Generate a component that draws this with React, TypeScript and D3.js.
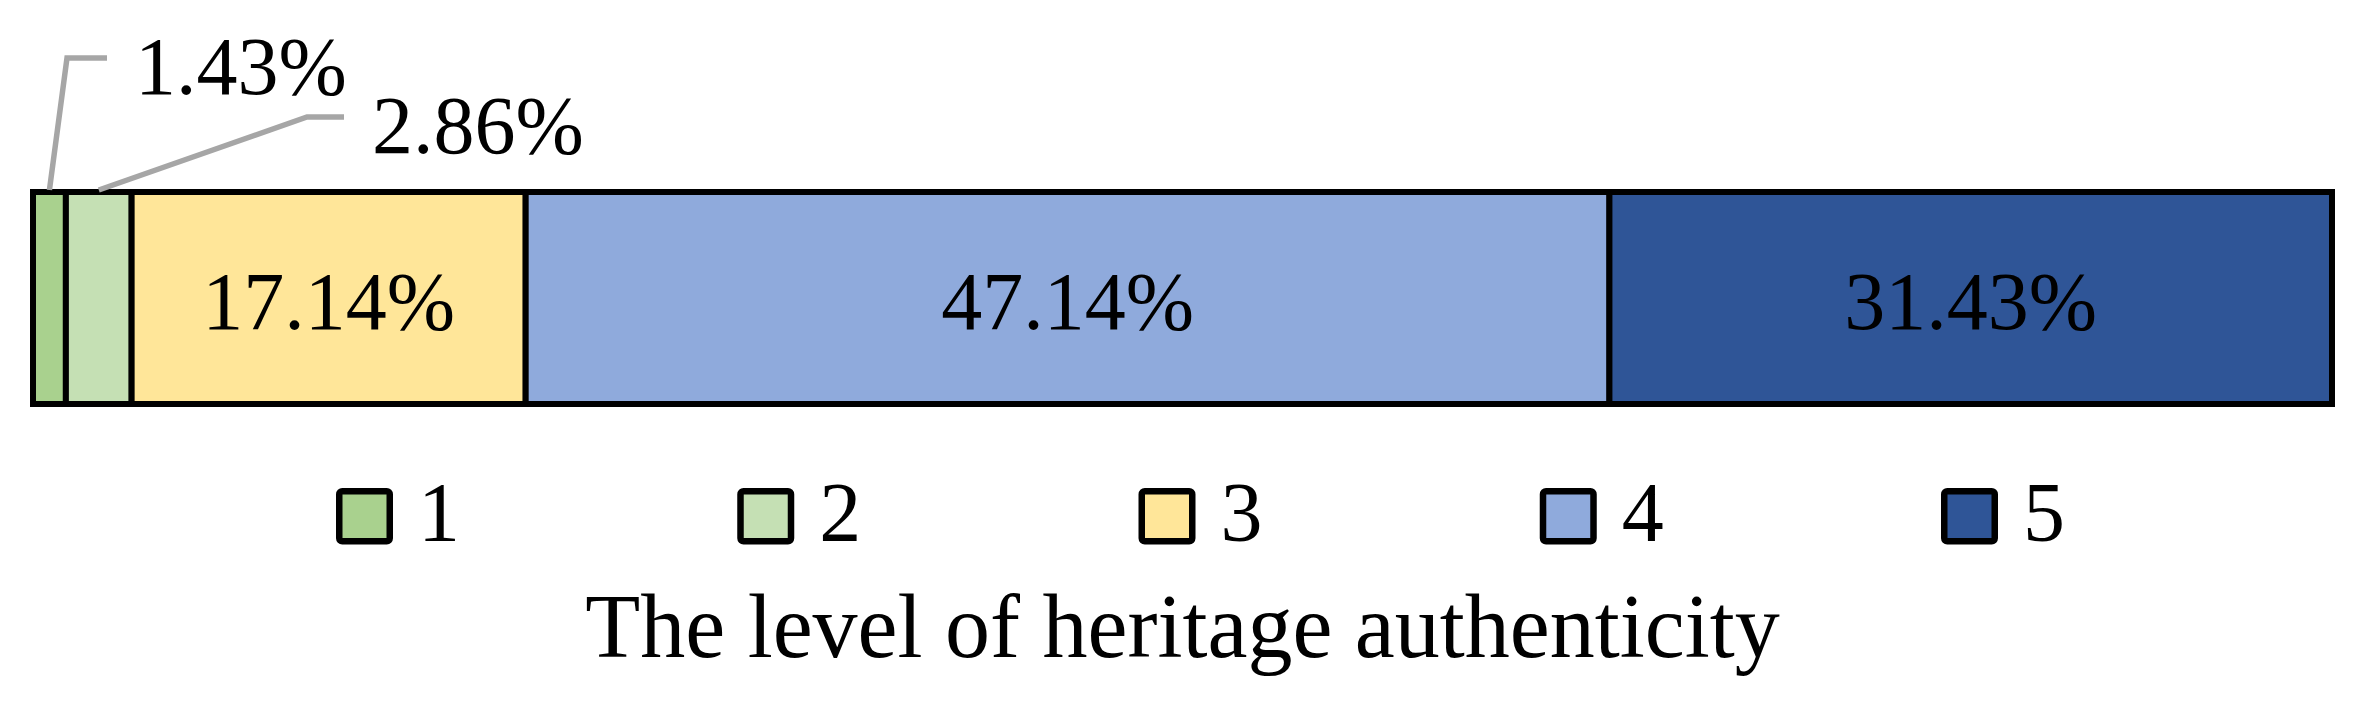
import { useEffect, useRef } from 'react'
import * as d3 from 'd3'

// levels of heritage authenticity and their shares (%)
const levels = ['1', '2', '3', '4', '5']
const shares = [1.43, 2.86, 17.14, 47.14, 31.43]
const colors = ['#a9d18e', '#c5e0b4', '#ffe699', '#8faadc', '#2f5597']
const axisTitle = 'The level of heritage authenticity'

const WIDTH = 2374
const HEIGHT = 707
const FONT = '"Liberation Serif", "Times New Roman", serif'

export default function App() {
  const svgRef = useRef<SVGSVGElement>(null)

  useEffect(() => {
    const svg = d3.select(svgRef.current)
    svg.selectAll('*').remove()

    const margin = { left: 33, right: 42 }
    const x = d3.scaleLinear().domain([0, 100]).range([margin.left, WIDTH - margin.right])
    const y = d3.scaleBand().domain(['bar']).range([192, 404]).padding(0)

    const ends = Array.from(d3.cumsum(shares))
    const segs = levels.map((lvl, i) => ({
      lvl,
      value: shares[i],
      x0: i === 0 ? 0 : ends[i - 1],
      x1: ends[i],
      color: colors[i]
    }))

    const g = svg.append('g')

    // segments
    g.selectAll('rect.seg')
      .data(segs)
      .enter()
      .append('rect')
      .attr('class', 'seg')
      .attr('x', d => x(d.x0))
      .attr('y', y('bar')!)
      .attr('width', d => x(d.x1) - x(d.x0))
      .attr('height', y.bandwidth())
      .attr('fill', d => d.color)
      .attr('stroke', '#000')
      .attr('stroke-width', 6)

    const fmt = (v: number) => v.toFixed(2) + '%'
    const yMid = y('bar')! + y.bandwidth() / 2

    // labels inside the larger segments
    g.selectAll('text.inner')
      .data(segs.filter(d => d.value > 10))
      .enter()
      .append('text')
      .attr('class', 'inner')
      .attr('x', d => x((d.x0 + d.x1) / 2))
      .attr('y', yMid + 31)
      .attr('text-anchor', 'middle')
      .style('font-family', FONT)
      .style('font-size', '82px')
      .attr('fill', '#000')
      .text(d => fmt(d.value))

    // callout labels for the two thin segments
    const callouts = [
      { seg: segs[0], elbowX: 67, elbowY: 58, endX: 107 },
      { seg: segs[1], elbowX: 307, elbowY: 117, endX: 344 }
    ]
    callouts.forEach(c => {
      const cx = x((c.seg.x0 + c.seg.x1) / 2)
      g.append('polyline')
        .attr('points', `${cx},${y('bar')! - 2} ${c.elbowX},${c.elbowY} ${c.endX},${c.elbowY}`)
        .attr('fill', 'none')
        .attr('stroke', '#a6a6a6')
        .attr('stroke-width', 5.5)
      g.append('text')
        .attr('x', c.endX + 28)
        .attr('y', c.elbowY + 36)
        .style('font-family', FONT)
        .style('font-size', '82px')
        .attr('fill', '#000')
        .text(fmt(c.seg.value))
    })

    // legend
    const legendX = d3.scalePoint().domain(levels).range([336, 1941])
    const lg = g.selectAll('g.legend')
      .data(segs)
      .enter()
      .append('g')
      .attr('class', 'legend')
      .attr('transform', d => `translate(${legendX(d.lvl)},488)`)

    lg.append('rect')
      .attr('x', 3.25)
      .attr('y', 3.25)
      .attr('width', 50.5)
      .attr('height', 50)
      .attr('rx', 3)
      .attr('fill', d => d.color)
      .attr('stroke', '#000')
      .attr('stroke-width', 6.5)

    lg.append('text')
      .attr('x', 82)
      .attr('y', 53)
      .style('font-family', FONT)
      .style('font-size', '84px')
      .attr('fill', '#000')
      .text(d => d.lvl)

    // axis title
    g.append('text')
      .attr('x', (x(0) + x(100)) / 2)
      .attr('y', 657)
      .attr('text-anchor', 'middle')
      .style('font-family', FONT)
      .style('font-size', '90px')
      .attr('fill', '#000')
      .text(axisTitle)
  }, [])

  return (
    <svg
      ref={svgRef}
      width={WIDTH}
      height={HEIGHT}
      style={{ position: 'absolute', left: 0, top: 0, background: '#fff' }}
    />
  )
}
